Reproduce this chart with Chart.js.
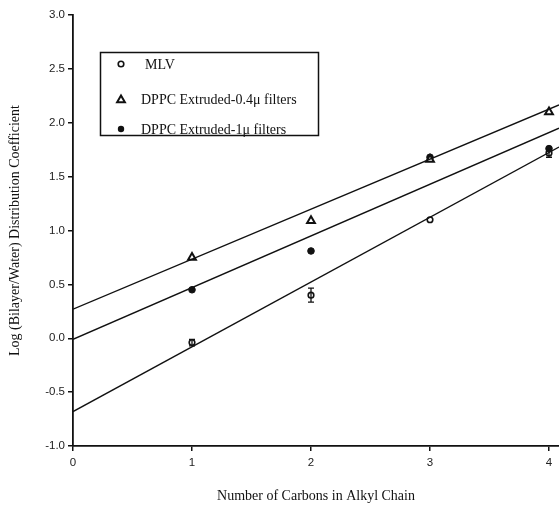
<!DOCTYPE html>
<html>
<head>
<meta charset="utf-8">
<script src="https://cdn.jsdelivr.net/npm/chart.js@4.4.0/dist/chart.umd.min.js"></script>
<style>
  html, body { margin: 0; padding: 0; background: #fff; }
  #wrap { width: 559px; height: 505px; position: relative; }
</style>
</head>
<body>
<div id="wrap"><canvas id="c" width="559" height="505"></canvas></div>
<script>
// measured points (number of carbons vs log coefficient)
const carbons = [1, 2, 3, 4];
const mlv = [-0.04, 0.40, 1.10, 1.72];
const mlvErr = [0.03, 0.065, 0, 0.04];
const dppc04 = [0.75, 1.09, 1.66, 2.10];
const dppc1 = [0.45, 0.81, 1.68, 1.76];

// fitted lines, read at both ends of the x range
const fitX = [0, 4.084];
const fitMlv = [-0.68, 1.775];
const fit04 = [0.27, 2.165];
const fit1 = [-0.01, 1.95];

const xTicks = [0, 1, 2, 3, 4];
const yTicks = [-1.0, -0.5, 0.0, 0.5, 1.0, 1.5, 2.0, 2.5, 3.0];

const seriesLabels = ['MLV', 'DPPC Extruded-0.4\u03bc filters', 'DPPC Extruded-1\u03bc filters'];

const pts = (xs, ys) => xs.map((x, i) => ({ x: x, y: ys[i] }));

const lineDs = (ys) => ({
    type: 'line', data: pts(fitX, ys), borderColor: '#111', borderWidth: 1.4,
    pointRadius: 0, fill: false, tension: 0, showLine: true
});

// small legend box drawn inside the plot area
const boxLegend = {
    id: 'boxLegend',
    afterDraw(chart){
        const ctx = chart.ctx;
        ctx.save();
        ctx.strokeStyle = '#111';
        ctx.lineWidth = 1.5;
        ctx.strokeRect(100.5, 52.5, 218, 83);
        const rows = [64, 99, 129];
        ctx.font = '14px "Liberation Serif", "Times New Roman", serif';
        ctx.fillStyle = '#111';
        ctx.textBaseline = 'middle';
        rows.forEach((y, i) => {
            const x = 121;
            ctx.beginPath();
            if(i === 0){
                ctx.arc(x, y, 2.8, 0, Math.PI * 2);
                ctx.fillStyle = '#fff'; ctx.fill();
                ctx.lineWidth = 1.6; ctx.strokeStyle = '#111'; ctx.stroke();
            } else if(i === 1){
                const r = 4.5;
                for(let k = 0; k < 3; k++){
                    const a = k * 2 * Math.PI / 3;
                    const px = x + Math.sin(a) * r, py = y - Math.cos(a) * r + 1;
                    if(k === 0) ctx.moveTo(px, py); else ctx.lineTo(px, py);
                }
                ctx.closePath();
                ctx.fillStyle = '#fff'; ctx.fill();
                ctx.lineWidth = 2; ctx.strokeStyle = '#111'; ctx.stroke();
            } else {
                ctx.arc(x, y, 3.2, 0, Math.PI * 2);
                ctx.fillStyle = '#111'; ctx.fill();
            }
            ctx.fillStyle = '#111';
            ctx.fillText(seriesLabels[i], i === 0 ? 145 : 141, y + 1);
        });
        ctx.restore();
    }
};

// vertical error bars on the MLV points
const errorBars = {
    id: 'errorBars',
    afterDatasetsDraw(chart){
        const ctx = chart.ctx;
        const xs = chart.scales.x, ys = chart.scales.y;
        ctx.save();
        ctx.strokeStyle = '#111';
        ctx.lineWidth = 1.3;
        carbons.forEach((c, i) => {
            if(!mlvErr[i]) return;
            const px = xs.getPixelForValue(c);
            const top = ys.getPixelForValue(mlv[i] + mlvErr[i]);
            const bot = ys.getPixelForValue(mlv[i] - mlvErr[i]);
            ctx.beginPath();
            ctx.moveTo(px, top); ctx.lineTo(px, bot);
            ctx.moveTo(px - 3, top); ctx.lineTo(px + 3, top);
            ctx.moveTo(px - 3, bot); ctx.lineTo(px + 3, bot);
            ctx.stroke();
        });
        ctx.restore();
    }
};

const tickFont = { family: '"Liberation Sans", Arial, sans-serif', size: 11.5 };
const titleFont = { family: '"Liberation Serif", "Times New Roman", serif', size: 14 };

new Chart(document.getElementById('c'), {
    type: 'scatter',
    data: {
        datasets: [
            lineDs(fitMlv),
            lineDs(fit04),
            lineDs(fit1),
            { label: seriesLabels[1], data: pts(carbons, dppc04), pointStyle: 'triangle', pointRadius: 4.5,
              backgroundColor: '#fff', borderColor: '#111', borderWidth: 2 },
            { label: seriesLabels[2], data: pts(carbons, dppc1), pointStyle: 'circle', pointRadius: 3.3,
              backgroundColor: '#111', borderColor: '#111', borderWidth: 1 },
            { label: seriesLabels[0], data: pts(carbons, mlv), pointStyle: 'circle', pointRadius: 2.8,
              backgroundColor: '#fff', borderColor: '#111', borderWidth: 1.6 }
        ]
    },
    options: {
        responsive: false,
        animation: false,
        events: [],
        layout: { autoPadding: false, padding: { top: 15, right: 0, left: 0, bottom: 0 } },
        plugins: { legend: { display: false }, tooltip: { enabled: false } },
        scales: {
            x: {
                type: 'linear', min: 0, max: fitX[1],
                afterBuildTicks: s => { s.ticks = xTicks.map(v => ({ value: v })); },
                afterFit: s => { s.height = 59; s.paddingLeft = 0; s.paddingRight = 0; },
                grid: { drawOnChartArea: false, drawTicks: true, tickLength: 5, color: '#111', lineWidth: 1.5 },
                border: { display: true, color: '#111', width: 1.8 },
                ticks: { font: tickFont, color: '#222', padding: 5, maxRotation: 0 },
                title: { display: true, text: 'Number of Carbons in Alkyl Chain', font: titleFont, color: '#111',
                         padding: { top: 0, bottom: 0 } }
            },
            y: {
                type: 'linear', min: -1, max: 3,
                afterBuildTicks: s => { s.ticks = yTicks.map(v => ({ value: v })); },
                afterFit: s => { s.width = 73; s.paddingTop = 0; s.paddingBottom = 0; },
                grid: { drawOnChartArea: false, drawTicks: true, tickLength: 5, color: '#111', lineWidth: 1.5 },
                border: { display: true, color: '#111', width: 1.8 },
                ticks: { font: tickFont, color: '#222', padding: 3, callback: v => v.toFixed(1) },
                title: { display: true, text: 'Log (Bilayer/Water) Distribution Coefficient', font: titleFont, color: '#111',
                         padding: { top: 6.5, bottom: 0 } }
            }
        }
    },
    plugins: [errorBars, boxLegend]
});
</script>
</body>
</html>
